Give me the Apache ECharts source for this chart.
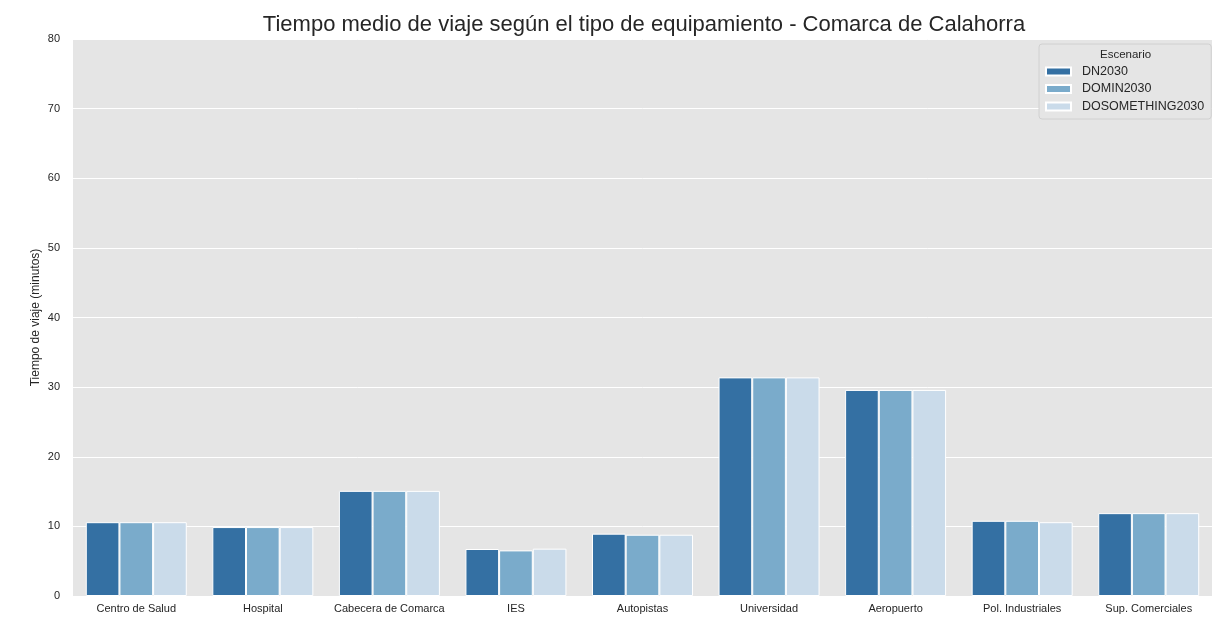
<!DOCTYPE html>
<html><head><meta charset="utf-8">
<script src="https://cdn.jsdelivr.net/npm/echarts@6/dist/echarts.min.js"></script>
<style>html,body{margin:0;padding:0;background:#fff}#c{width:1223px;height:620px}</style>
</head><body><div id="c"></div>
<script>
const categories = ["Centro de Salud","Hospital","Cabecera de Comarca","IES","Autopistas","Universidad","Aeropuerto","Pol. Industriales","Sup. Comerciales"];
const seriesNames = ["DN2030","DOMIN2030","DOSOMETHING2030"];
const dn2030 = [10.6, 9.9, 15.1, 6.75, 8.95, 31.4, 29.6, 10.8, 11.9];
const domin2030 = [10.6, 9.9, 15.1, 6.55, 8.8, 31.4, 29.6, 10.8, 11.9];
const dosomething2030 = [10.6, 9.9, 15.1, 6.8, 8.8, 31.4, 29.6, 10.6, 11.9];
const colors = ["#3470a3","#7aabcb","#cadbea"];
const font = "Arial, 'Liberation Sans', sans-serif";

const chart = echarts.init(document.getElementById('c'));
const dataSets = [dn2030, domin2030, dosomething2030];
chart.setOption({
  animation: false,
  textStyle: {fontFamily: font},
  title: {text: "Tiempo medio de viaje según el tipo de equipamiento - Comarca de Calahorra", left: 639, textAlign: 'center', top: 9,
    textStyle: {fontSize: 22, fontWeight: 'normal', color: '#262626', fontFamily: font}},
  grid: {left: 73, right: 11, top: 39, bottom: 24, show: true, backgroundColor: '#e5e5e5', borderWidth: 0},
  legend: {orient: 'vertical', left: 1039, top: 44, itemWidth: 25, itemHeight: 8, itemGap: 4.5,
    padding: [21, 7, 6, 6], backgroundColor: '#e5e5e5', borderColor: '#d0d0d0', borderWidth: 1, borderRadius: 3,
    textStyle: {fontSize: 12.5, color: '#262626', fontFamily: font, padding: [0, 0, 0, 6]}, data: seriesNames, icon: 'rect'},
  graphic: [{type: 'text', z: 200, left: 1100, top: 49, style: {text: 'Escenario', fontSize: 11.5, fill: '#262626', fontFamily: font}}],
  xAxis: {type: 'category', data: categories, axisLine: {show: false}, axisTick: {show: false},
    axisLabel: {fontSize: 11, color: '#262626', margin: 7, interval: 0}, splitLine: {show: false}},
  yAxis: {type: 'value', min: 0, max: 80, interval: 10, name: 'Tiempo de viaje (minutos)', nameLocation: 'middle', nameGap: 31,
    nameMoveOverlap: false,
    nameTextStyle: {fontSize: 12, color: '#262626'},
    axisLine: {show: false}, axisTick: {show: false}, axisLabel: {fontSize: 11, color: '#262626', margin: 13},
    splitLine: {lineStyle: {color: '#ffffff', width: 1}}},
  series: seriesNames.map((n, i) => ({
    name: n, type: 'bar', data: dataSets[i], barWidth: '26.6%', barGap: '0%',
    itemStyle: {color: colors[i], borderColor: '#ffffff', borderWidth: 1}
  }))
});
</script></body></html>
